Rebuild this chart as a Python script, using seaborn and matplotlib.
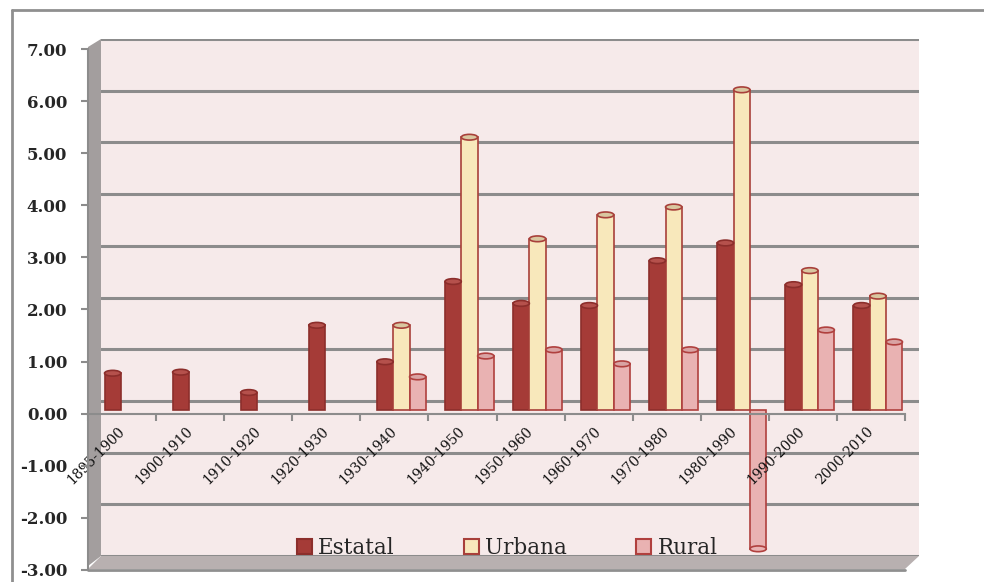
import pandas as pd
import numpy as np
import matplotlib
matplotlib.use("Agg")
import matplotlib.pyplot as plt
from matplotlib.patches import Polygon, Patch, Ellipse
from matplotlib.lines import Line2D
import seaborn as sns

# --- data ---
periodos = ['1895-1900', '1900-1910', '1910-1920', '1920-1930', '1930-1940', '1940-1950',
            '1950-1960', '1960-1970', '1970-1980', '1980-1990', '1990-2000', '2000-2010']
estatal = [0.70, 0.72, 0.33, 1.62, 0.92, 2.46, 2.04, 2.00, 2.86, 3.20, 2.40, 2.00]
urbana = [None, None, None, None, 1.62, 5.23, 3.28, 3.74, 3.89, 6.14, 2.67, 2.18]
rural = [None, None, None, None, 0.63, 1.03, 1.15, 0.88, 1.15, -2.67, 1.53, 1.30]
series = ['Estatal', 'Urbana', 'Rural']
yticks = [-3, -2, -1, 0, 1, 2, 3, 4, 5, 6, 7]

df = pd.DataFrame({'periodo': periodos * 3,
                   'serie': np.repeat(series, len(periodos)),
                   'valor': estatal + urbana + rural}).dropna()

fills = {'Estatal': '#A53B37', 'Urbana': '#F8E8BB', 'Rural': '#E9B2B2'}
edges = {'Estatal': '#8C2E2B', 'Urbana': '#A8403A', 'Rural': '#B0403E'}
tops = {'Estatal': '#B5514C', 'Urbana': '#D9C7A0', 'Rural': '#D9A3A3'}

sns.set_theme(style='white')
plt.rcParams['font.family'] = ['DejaVu Serif']

W, H = 984, 582
fig = plt.figure(figsize=(W / 100, H / 100), dpi=100)
fig.patch.set_facecolor('white')


def box(left, top, right, bottom):
    return [left / W, 1 - bottom / H, (right - left) / W, (bottom - top) / H]


def fp(x, y):
    return (x / W, 1 - y / H)


# outer chart border (top + left)
fig.add_artist(Line2D([12 / W, 1], [1 - 10 / H] * 2, color='#8F8F8F', lw=2, zorder=-1))
fig.add_artist(Line2D([12 / W] * 2, [0, 1 - 10 / H], color='#8F8F8F', lw=2, zorder=-1))

# back wall with gridlines
ax_wall = fig.add_axes(box(101, 39, 919, 556))
ax_wall.set_facecolor('#F6EAEA')
ax_wall.set_ylim(-3, 7)
ax_wall.set_xlim(0, 1)
for v in yticks:
    ax_wall.axhline(v, color='#8C8C8C', lw=2.2, zorder=1)
ax_wall.set_xticks([])
ax_wall.set_yticks([])
for s in ax_wall.spines.values():
    s.set_visible(False)

# side wall and floor
fig.add_artist(Polygon([fp(88, 47), fp(101, 39), fp(101, 556), fp(88, 566)],
                       closed=True, facecolor='#A39E9E', edgecolor='none', zorder=-1))
fig.add_artist(Polygon([fp(101, 556), fp(919, 556), fp(905, 569), fp(88, 569)],
                       closed=True, facecolor='#B8B0B0', edgecolor='none', zorder=-1))
fig.add_artist(Line2D([88 / W, 905 / W], [1 - 570 / H] * 2, color='#8F8F8F', lw=2, zorder=-1))

# bars (drawn slightly behind the front plane, like the 3D original)
ax_bar = fig.add_axes(box(95, 45, 912, 566))
ax_bar.patch.set_alpha(0)
sns.barplot(data=df, x='periodo', y='valor', hue='serie', order=periodos,
            hue_order=series, palette=fills, width=0.72, errorbar=None,
            saturation=1, legend=False, ax=ax_bar)
cap = 0.11  # cylinder cap height in data units
for cont, s in zip(ax_bar.containers, series):
    for p in cont:
        p.set_edgecolor(edges[s])
        p.set_linewidth(1.2)
        h = p.get_height()
        if np.isnan(h):
            continue
        end = p.get_y() + h
        ax_bar.add_patch(Ellipse((p.get_x() + p.get_width() / 2, end), p.get_width(), cap,
                                 facecolor=tops[s] if h > 0 else fills[s],
                                 edgecolor=edges[s], lw=1.2, zorder=3))
ax_bar.set_ylim(-3, 7)
ax_bar.set_xlim(-0.5, len(periodos) - 0.5)
ax_bar.set_xlabel('')
ax_bar.set_ylabel('')
ax_bar.set_xticks([])
ax_bar.set_yticks([])
for s in ax_bar.spines.values():
    s.set_visible(False)

# front axis: value ticks and category labels (on top of the bars)
ax = fig.add_axes(box(88, 49, 905, 570))
ax.set_zorder(2)
ax.patch.set_alpha(0)
ax.set_ylim(-3, 7)
ax.set_xlim(-0.5, len(periodos) - 0.5)
ax.set_yticks(yticks)
ax.set_yticklabels([f'{v:.2f}' for v in yticks], fontweight='bold', fontsize=12)
ax.tick_params(axis='y', length=5, width=1.5, color='#8C8C8C', pad=10, left=True)
for s in ['top', 'right']:
    ax.spines[s].set_visible(False)
ax.spines['left'].set_color('#8C8C8C')
ax.spines['left'].set_linewidth(1.5)
ax.spines['bottom'].set_position(('data', 0))
ax.spines['bottom'].set_color('#8C8C8C')
ax.spines['bottom'].set_linewidth(1.5)
ax.set_xticks(np.arange(len(periodos) + 1) - 0.5)
ax.set_xticklabels([])
ax.set_xticks(np.arange(len(periodos)), minor=True)
ax.set_xticklabels(periodos, minor=True, rotation=45, ha='right', va='center',
                   rotation_mode='anchor', fontsize=10, color='#111111')
ax.tick_params(axis='x', which='major', length=5, width=1.5, color='#8C8C8C', bottom=True)
ax.tick_params(axis='x', which='minor', length=0, pad=11)

handles = [Patch(facecolor=fills[s], edgecolor=edges[s], linewidth=1.5, label=s) for s in series]
fig.legend(handles=handles, loc='center', bbox_to_anchor=(507 / W, 1 - 548 / H), ncol=3,
           frameon=False, fontsize=15.5, handlelength=0.7, handleheight=0.7,
           handletextpad=0.3, columnspacing=3.2)

fig.savefig('out.png', dpi=100)
